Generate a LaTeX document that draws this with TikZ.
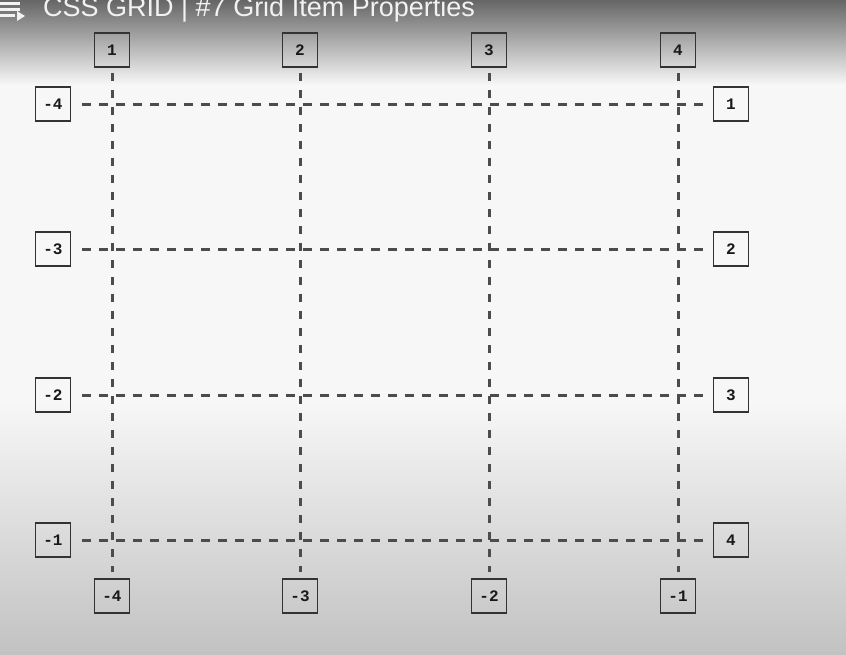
\documentclass[tikz,border=0pt]{standalone}
\usepackage{fontspec}
\setmainfont{Liberation Sans}
\newfontfamily\labelfont{Liberation Mono}
\begin{document}
\begin{tikzpicture}[x=1pt,y=-1pt,
  numbox/.style={draw=black!80,line width=1.8pt,minimum width=35pt,minimum height=34pt,inner sep=0pt,
    font=\labelfont\bfseries\fontsize{16}{16}\selectfont,text=black!90},
  gridline/.style={draw=black!70,line width=3pt,dash pattern=on 8.5pt off 8.5pt}]
\useasboundingbox (0,0) rectangle (846,654);
% background
\shade[top color=black!60,bottom color=black!3] (0,0) rectangle (846,85);
\fill[black!3] (0,85) rectangle (846,400);
\shade[top color=black!3,bottom color=black!24] (0,400) rectangle (846,654);
% title bar
\node[anchor=base west,inner sep=0pt,text=white!95!black,font=\fontsize{27}{27}\selectfont] (title) at (43,16) {CSS GRID | \#7 Grid Item Properties};
\fill[white!95!black] (0,2) rectangle (20,4.5);
\fill[white!95!black] (0,8) rectangle (20,10.5);
\fill[white!95!black] (0,14) rectangle (15,16.5);
\fill[white!95!black] (17,11) -- (17,21) -- (25,16) -- cycle;
% labels
\foreach \i/\x in {1/112,2/300,3/489,4/678} {
  \node[numbox] (t\i) at (\x,50) {\i};
}
\foreach \i/\x/\t in {1/112/-4,2/300/-3,3/489/-2,4/678/-1} {
  \node[numbox] (b\i) at (\x,596) {\t};
}
\foreach \i/\y/\t in {1/104/-4,2/249/-3,3/395/-2,4/540/-1} {
  \node[numbox] (l\i) at (53,\y) {\t};
  \node[numbox] (r\i) at (731,\y) {\i};
}
% grid lines
\foreach \i in {1,...,4} {
  \draw[gridline,shorten <=5pt,shorten >=6pt] (t\i) -- (b\i);
  \draw[gridline,shorten <=11pt,shorten >=9pt] (l\i) -- (r\i);
}
\end{tikzpicture}
\end{document}
